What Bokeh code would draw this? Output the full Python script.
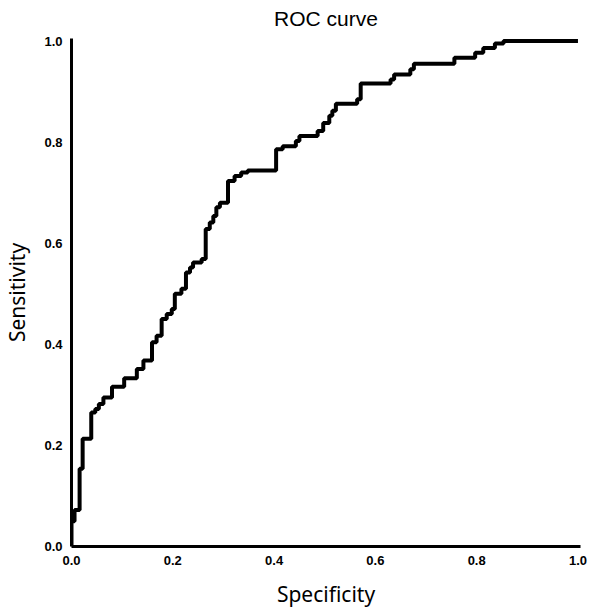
from bokeh.plotting import figure
from bokeh.embed import file_html
from bokeh.resources import INLINE
from bokeh.models import Range1d, FixedTicker

# ROC curve vertices (false positive rate axis labelled "Specificity", sensitivity)
spec = [0.000, 0.000, 0.006, 0.016, 0.022, 0.039, 0.047, 0.054, 0.063, 0.080,
        0.104, 0.129, 0.142, 0.159, 0.168, 0.178, 0.188, 0.198, 0.204, 0.217,
        0.226, 0.234, 0.240, 0.257, 0.265, 0.273, 0.280, 0.286, 0.293, 0.309,
        0.322, 0.335, 0.348, 0.404, 0.417, 0.443, 0.450, 0.486, 0.497, 0.509,
        0.515, 0.522, 0.564, 0.571, 0.630, 0.637, 0.669, 0.676, 0.756, 0.797,
        0.813, 0.836, 0.853, 1.000]
sens = [0.000, 0.050, 0.072, 0.154, 0.213, 0.265, 0.272, 0.282, 0.295, 0.316,
        0.333, 0.351, 0.368, 0.404, 0.417, 0.450, 0.460, 0.470, 0.500, 0.510,
        0.542, 0.552, 0.562, 0.569, 0.628, 0.641, 0.654, 0.671, 0.680, 0.723,
        0.733, 0.740, 0.744, 0.786, 0.792, 0.802, 0.812, 0.822, 0.838, 0.852,
        0.862, 0.876, 0.885, 0.916, 0.924, 0.934, 0.944, 0.955, 0.967, 0.977,
        0.986, 0.995, 1.000, 1.000]
tick_values = [0.0, 0.2, 0.4, 0.6, 0.8, 1.0]

p = figure(width=590, height=611, output_backend="svg", toolbar_location=None,
           x_range=Range1d(0, 1.005), y_range=Range1d(0, 1.005),
           min_border_left=71, min_border_right=10, min_border_top=38,
           min_border_bottom=65, title="ROC curve")

p.title.align = "center"
p.title.vertical_align = "top"
p.title.text_font = "Liberation Sans"
p.title.text_font_size = "21px"
p.title.text_font_style = "normal"
p.title.text_color = "black"
p.title.standoff = 13
p.title.offset = 4

p.step(x=spec, y=sens, mode="after", line_width=4, line_color="black")

p.outline_line_color = None
p.xgrid.grid_line_color = None
p.ygrid.grid_line_color = None

for ax in (p.xaxis[0], p.yaxis[0]):
    ax.ticker = FixedTicker(ticks=tick_values)
    ax.minor_tick_line_color = None
    ax.major_tick_line_color = None
    ax.major_tick_out = 0
    ax.major_tick_in = 0
    ax.axis_line_width = 3
    ax.axis_line_color = "black"
    ax.major_label_text_font = "Liberation Sans"
    ax.major_label_text_font_style = "bold"
    ax.major_label_text_font_size = "13px"
    ax.major_label_text_color = "black"
    ax.axis_label_text_font = "Noto Sans"
    ax.axis_label_text_font_style = "normal"
    ax.axis_label_text_font_size = "21px"
    ax.axis_label_text_color = "black"

p.xaxis.axis_label = "Specificity"
p.yaxis.axis_label = "Sensitivity"
p.xaxis.major_label_standoff = 9
p.xaxis.axis_label_standoff = 12
p.yaxis.major_label_standoff = 9
p.yaxis.axis_label_standoff = 10
p.xaxis[0].major_label_overrides = {v: f"{v:.1f}" for v in tick_values}
p.yaxis[0].major_label_overrides = {v: f"{v:.1f}" for v in tick_values}

open("out.html", "w").write(file_html(p, INLINE))
